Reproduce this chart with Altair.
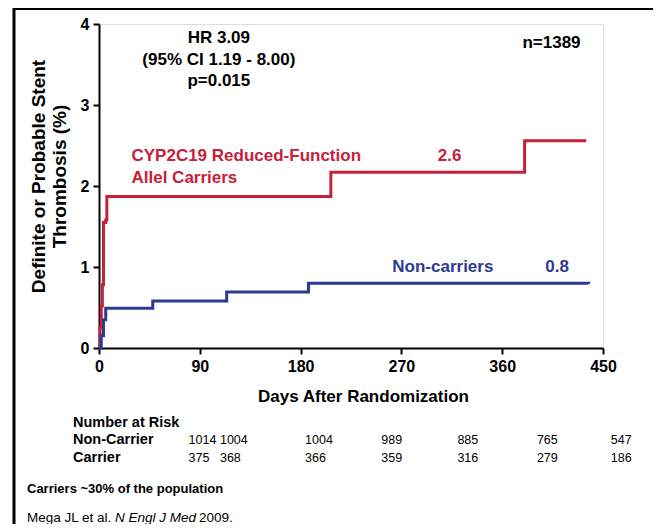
import altair as alt
import pandas as pd

# ---- data ----
carrier_days = [0, 1, 2, 3, 4, 6, 7, 207, 380, 435]
carrier_pct = [0, 0.26, 0.52, 0.78, 1.55, 1.58, 1.87, 2.17, 2.56, 2.56]
noncarrier_days = [0, 2, 4, 6, 48, 114, 187, 437]
noncarrier_pct = [0, 0.15, 0.35, 0.49, 0.58, 0.69, 0.80, 0.79]

x_ticks = [0, 90, 180, 270, 360, 450]
y_ticks = [0, 1, 2, 3, 4]

risk_days = [80, 108, 184, 252, 320, 391, 457]
risk_noncarrier = ["1014", "1004", "1004", "989", "885", "765", "547"]
risk_carrier = ["375", "368", "366", "359", "316", "279", "186"]

RED = "#C8203A"
BLUE = "#2D3A92"
SANS = "Liberation Sans, Arial, Helvetica"

curves = pd.concat([
    pd.DataFrame({"day": carrier_days, "pct": carrier_pct, "grp": "Carrier"}),
    pd.DataFrame({"day": noncarrier_days, "pct": noncarrier_pct, "grp": "Non-carrier"}),
])

xs = alt.Scale(domain=[0, 450], nice=False, zero=False)
ys = alt.Scale(domain=[0, 4], nice=False)

x_axis = alt.Axis(values=x_ticks, format="d", title="Days After Randomization", grid=False,
                  labelFlush=False, domainColor="black", domainWidth=2, tickColor="black",
                  tickWidth=2, tickSize=6, labelFont=SANS, labelFontSize=16,
                  labelFontWeight="bold", labelColor="black", labelPadding=4,
                  titleFont=SANS, titleFontSize=17, titleFontWeight="bold",
                  titleColor="black", titleBaseline="middle", titleAlign="center",
                  titleX=264, titleY=48)
y_axis = alt.Axis(values=y_ticks, format="d",
                  title=["Definite or Probable Stent", "Thrombosis (%)"],
                  grid=False, labelFlush=False, domainColor="black", domainWidth=2,
                  tickColor="black", tickWidth=2, tickSize=6, labelFont=SANS,
                  labelFontSize=16, labelFontWeight="bold", labelColor="black",
                  labelPadding=4, titleFont=SANS, titleFontSize=19,
                  titleFontWeight="bold", titleColor="black", titleX=-61, titleY=152,
                  titleAngle=-90, titleBaseline="middle", titleLineHeight=21,
                  titleAlign="center")

lines = alt.Chart(curves).mark_line(interpolate="step-after", strokeWidth=3).encode(
    x=alt.X("day:Q", scale=xs, axis=x_axis),
    y=alt.Y("pct:Q", scale=ys, axis=y_axis),
    color=alt.Color("grp:N", scale=alt.Scale(domain=["Carrier", "Non-carrier"],
                                             range=[RED, BLUE]), legend=None),
)

# annotations inside the plot (data coordinates)
ann_black = pd.DataFrame({
    "day": [107, 107, 107, 404],
    "pct": [3.83, 3.55, 3.30, 3.77],
    "txt": ["HR 3.09", "(95% CI 1.19 - 8.00)", "p=0.015", "n=1389"],
})
ann_red = pd.DataFrame({
    "day": [29, 29],
    "pct": [2.37, 2.10],
    "txt": ["CYP2C19 Reduced-Function", "Allel Carriers"],
})
ann_red_val = pd.DataFrame({"day": [313], "pct": [2.37], "txt": ["2.6"]})
ann_blue = pd.DataFrame({"day": [307, 409], "pct": [1.0, 1.0], "txt": ["Non-carriers", "0.8"]})

t_black = alt.Chart(ann_black).mark_text(font=SANS, fontSize=17, fontWeight="bold",
                                          color="black", align="center").encode(
    x=alt.X("day:Q", scale=xs), y=alt.Y("pct:Q", scale=ys), text="txt:N")
t_red = alt.Chart(ann_red).mark_text(font=SANS, fontSize=17, fontWeight="bold",
                                      color=RED, align="left").encode(
    x=alt.X("day:Q", scale=xs), y=alt.Y("pct:Q", scale=ys), text="txt:N")
t_red_val = alt.Chart(ann_red_val).mark_text(font=SANS, fontSize=17, fontWeight="bold",
                                              color=RED, align="center").encode(
    x=alt.X("day:Q", scale=xs), y=alt.Y("pct:Q", scale=ys), text="txt:N")
t_blue = alt.Chart(ann_blue).mark_text(font=SANS, fontSize=17, fontWeight="bold",
                                        color=BLUE, align="center").encode(
    x=alt.X("day:Q", scale=xs), y=alt.Y("pct:Q", scale=ys), text="txt:N")

# number at risk table
risk = pd.concat([
    pd.DataFrame({"day": risk_days, "txt": risk_noncarrier, "row": 416}),
    pd.DataFrame({"day": risk_days, "txt": risk_carrier, "row": 434}),
])
t_risk = alt.Chart(risk).mark_text(font=SANS, fontSize=12.5, color="black",
                                   align="left", baseline="middle").encode(
    x=alt.X("day:Q", scale=xs), y=alt.Y("row:Q", scale=None), text="txt:N")

row_labels = pd.DataFrame({
    "px": [-26, -26, -26],
    "py": [399, 416, 434],
    "txt": ["Number at Risk", "Non-Carrier", "Carrier"],
})
t_rows = alt.Chart(row_labels).mark_text(font=SANS, fontSize=14.5, fontWeight="bold",
                                         color="black", align="left",
                                         baseline="middle").encode(
    x=alt.X("px:Q", scale=None), y=alt.Y("py:Q", scale=None), text="txt:N")

note_bold = pd.DataFrame({"px": [-72], "py": [465], "txt": ["Carriers ~30% of the population"]})
t_note_bold = alt.Chart(note_bold).mark_text(font=SANS, fontSize=13, fontWeight="bold",
                                             color="black", align="left",
                                             baseline="middle").encode(
    x=alt.X("px:Q", scale=None), y=alt.Y("py:Q", scale=None), text="txt:N")

cite = pd.DataFrame({
    "px": [-72, 16, 100],
    "py": [498, 498, 498],
    "txt": ["Mega JL et al.", "N Engl J Med", "2009."],
    "sty": ["normal", "italic", "normal"],
})
t_cite_reg = alt.Chart(cite.iloc[[0, 2]]).mark_text(font=SANS, fontSize=13.5, color="black",
                                                    align="left",
                                                    baseline="alphabetic").encode(
    x=alt.X("px:Q", scale=None), y=alt.Y("py:Q", scale=None), text="txt:N")
t_cite_it = alt.Chart(cite.iloc[[1]]).mark_text(font=SANS, fontSize=13.5, fontStyle="italic",
                                                color="black", align="left",
                                                baseline="alphabetic").encode(
    x=alt.X("px:Q", scale=None), y=alt.Y("py:Q", scale=None), text="txt:N")

# slide frame (top and left edges)
frame_left = alt.Chart(pd.DataFrame({"a": [0]})).mark_rule(color="black", strokeWidth=3).encode(
    x=alt.value(-85), y=alt.value(-16), y2=alt.value(510))
frame_top = alt.Chart(pd.DataFrame({"a": [0]})).mark_rule(color="black", strokeWidth=2).encode(
    x=alt.value(-86), x2=alt.value(570), y=alt.value(-15))

chart = alt.layer(
    frame_left, frame_top, lines, t_black, t_red, t_red_val, t_blue,
    t_risk, t_rows, t_note_bold, t_cite_reg, t_cite_it,
).properties(
    width=504, height=324,
    autosize=alt.AutoSizeParams(type="none"),
    padding={"left": 91, "top": 16, "right": 50, "bottom": 176},
).configure_view(stroke=None).configure(background="white")

chart.save("out.html", embed_options={"renderer": "svg", "actions": False})
